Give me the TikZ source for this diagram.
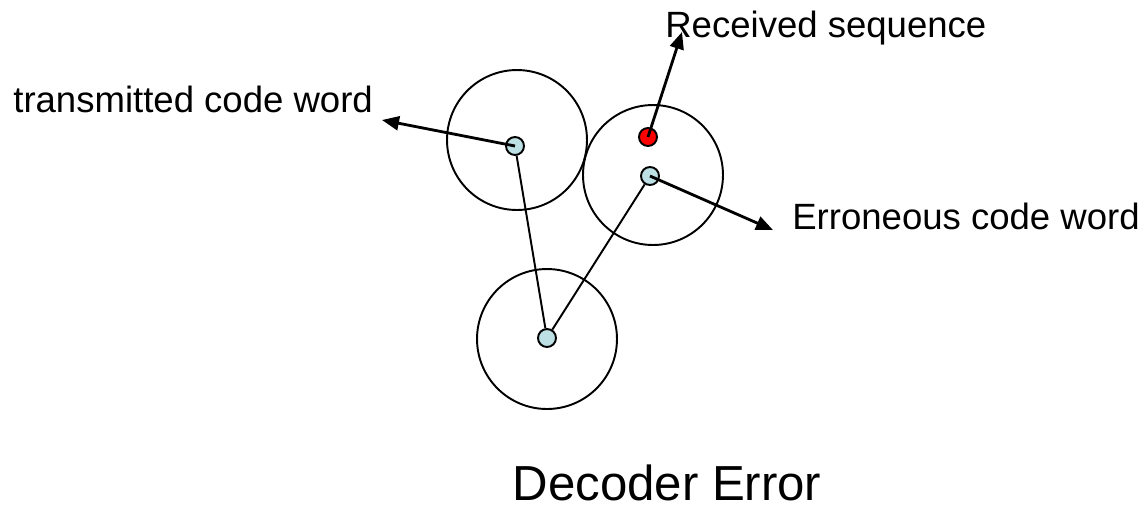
\documentclass[tikz,border=0pt]{standalone}
\usepackage{fontspec}
\setmainfont{Liberation Sans}
\usetikzlibrary{arrows.meta}
\definecolor{dotblue}{HTML}{BCE0E3}
\definecolor{dotred}{HTML}{FF0000}

\begin{document}
\begin{tikzpicture}[
  x=0.02cm,y=-0.02cm,
  zone/.style={draw=black,line width=1.1pt,circle,minimum size=2.8cm,inner sep=0},
  word/.style={draw=black,line width=1.1pt,circle,fill=dotblue,minimum size=0.36cm,inner sep=0},
  rcv/.style={word,fill=dotred},
  lnk/.style={draw=black,line width=1.1pt},
  ptr/.style={draw=black,line width=1.6pt,-{Triangle[length=0.34cm,width=0.28cm]}},
  lbl/.style={font=\fontsize{20.8}{25}\selectfont,inner sep=0,anchor=base west},
  title/.style={font=\fontsize{28}{34}\selectfont,inner sep=0,anchor=base},
]
\useasboundingbox (0,0) rectangle (1147,512);

% decoding spheres
\node[zone] (s1) at (517,140) {};
\node[zone] (s2) at (653,175) {};
\node[zone] (s3) at (547,339) {};

% code words and received sequence
\node[word] (tx) at (515,146) {};
\node[rcv]  (rx) at (648,137) {};
\node[word] (er) at (650,176) {};
\node[word] (cw) at (547,338) {};
\draw[lnk] (tx) -- (cw);
\draw[lnk] (er) -- (cw);

% labels
\node[lbl] (txl) at (13,112) {transmitted code word};
\node[lbl] (rxl) at (665,37) {Received sequence};
\node[lbl] (erl) at (792,229) {Erroneous code word};
\coordinate (txp) at (382,120);
\coordinate (rxp) at (682,32);
\coordinate (erp) at (773,230);
\draw[ptr] (tx.center) -- (txp);
\draw[ptr] (rx.center) -- (rxp);
\draw[ptr] (er.center) -- (erp);

\node[title] (ttl) at (667,500) {Decoder Error};
\end{tikzpicture}
\end{document}
